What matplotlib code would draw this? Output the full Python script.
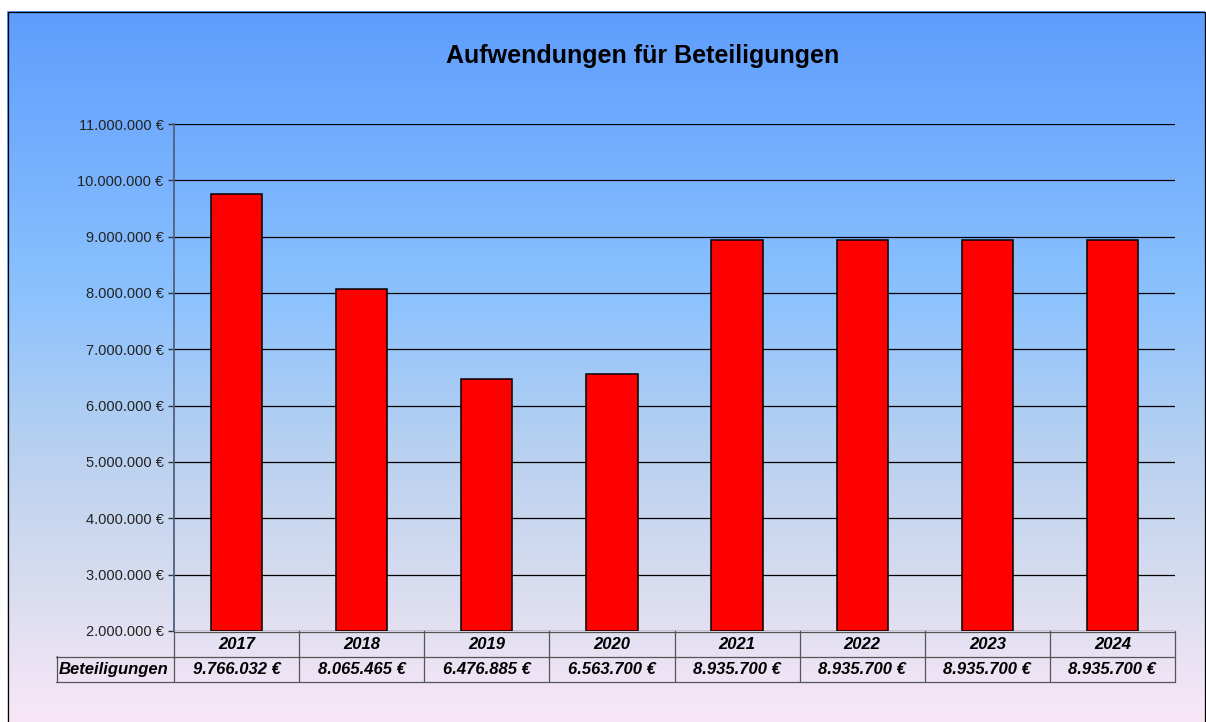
import matplotlib
matplotlib.use("Agg")
import matplotlib.pyplot as plt
import numpy as np
from matplotlib.colors import LinearSegmentedColormap
from matplotlib.patches import Rectangle
from matplotlib.lines import Line2D

years = ["2017", "2018", "2019", "2020", "2021", "2022", "2023", "2024"]
values = [9766032, 8065465, 6476885, 6563700, 8935700, 8935700, 8935700, 8935700]
value_labels = ["9.766.032 €", "8.065.465 €", "6.476.885 €", "6.563.700 €",
                "8.935.700 €", "8.935.700 €", "8.935.700 €", "8.935.700 €"]
row_label = "Beteiligungen"
title = "Aufwendungen für Beteiligungen"
yticks = [2000000, 3000000, 4000000, 5000000, 6000000, 7000000,
          8000000, 9000000, 10000000, 11000000]

plt.rcParams['font.family'] = ['Liberation Sans', 'DejaVu Sans']

W, H = 1206, 722
fig = plt.figure(figsize=(W / 100, H / 100), dpi=100)
fig.patch.set_facecolor("white")

# background gradient
bg = fig.add_axes([0, 0, 1, 1])
bg.set_xlim(0, W)
bg.set_ylim(H, 0)
bg.axis("off")
cmap = LinearSegmentedColormap.from_list("bgc", [
    (0.0, "#5e9dfd"),
    (0.40, "#8cc2fe"),
    (0.62, "#b9d1ef"),
    (0.83, "#dcdef0"),
    (1.0, "#f9e7f7"),
])
grad = np.linspace(0, 1, 256).reshape(-1, 1)
bg.imshow(grad, cmap=cmap, aspect="auto", extent=[7, 1205, 725, 11], zorder=0)
bg.add_patch(Rectangle((7.5, 11.5), 1197, 720, fill=False, edgecolor="black", linewidth=0.9, zorder=1))
bg.text(643, 56, title, ha="center", va="center", fontsize=18, fontweight="bold", color="black")

# main axes
L, R, T, B = 174, 1175, 124, 631
ax = fig.add_axes([L / W, 1 - B / H, (R - L) / W, (B - T) / H])
ax.patch.set_alpha(0)
x = np.arange(len(years))
ax.bar(x, [v - 2000000 for v in values], bottom=2000000, width=0.41,
       color="#ff0000", edgecolor="black", linewidth=1.1, zorder=3)
ax.set_xlim(-0.5, len(years) - 0.5)
ax.set_ylim(2000000, 11000000)
ax.set_yticks(yticks)
ax.set_yticklabels([f"{v:,.0f} €".replace(",", ".") for v in yticks], fontsize=10.5, color="#222222")
ax.tick_params(axis="y", length=4, width=1, color="#333333", pad=3.5)
ax.set_xticks([])
for v in yticks:
    ax.axhline(v, color="black", linewidth=0.9, zorder=1)
for s in ["top", "right", "bottom"]:
    ax.spines[s].set_visible(False)
ax.spines["left"].set_color("#4f6080")
ax.spines["left"].set_linewidth(1.3)

# data table
px = (R - L) / len(years)  # pixels per category
tcol = "#555555"
row1_top, row1_bot, row2_bot = 631, 656, 681
bg.add_line(Line2D([L, R], [row1_top + 0.5, row1_top + 0.5], color=tcol, lw=0.9, zorder=2))
bg.add_line(Line2D([56, R], [row1_bot + 0.5, row1_bot + 0.5], color=tcol, lw=0.9, zorder=2))
bg.add_line(Line2D([56, R], [row2_bot + 0.5, row2_bot + 0.5], color=tcol, lw=0.9, zorder=2))
bg.add_line(Line2D([56.5, 56.5], [row1_bot, row2_bot], color=tcol, lw=0.9, zorder=2))
for i in range(len(years) + 1):
    xx = L + i * px
    bg.add_line(Line2D([xx, xx], [row1_top, row2_bot], color=tcol, lw=0.9, zorder=2))
for i, (yr, lab) in enumerate(zip(years, value_labels)):
    cx = L + (i + 0.5) * px
    bg.text(cx, (row1_top + row1_bot) / 2 + 1, yr, ha="center", va="center",
            fontsize=12, fontweight="bold", fontstyle="italic", color="black")
    bg.text(cx, (row1_bot + row2_bot) / 2 + 1, lab, ha="center", va="center",
            fontsize=12, fontweight="bold", fontstyle="italic", color="black")
bg.text(59, (row1_bot + row2_bot) / 2 + 1, row_label, ha="left", va="center",
        fontsize=12, fontweight="bold", fontstyle="italic", color="black")

fig.savefig("out.png", dpi=100)
